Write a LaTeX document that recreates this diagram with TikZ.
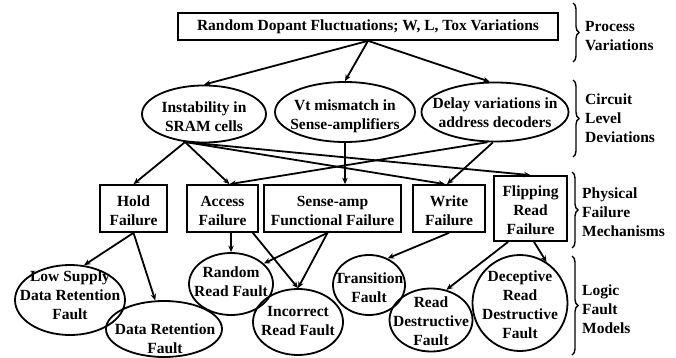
\documentclass[tikz,border=0pt]{standalone}
\usepackage{fontspec}
\setmainfont{Liberation Serif}
\usetikzlibrary{shapes.geometric,arrows.meta,calc,decorations.pathreplacing}
\begin{document}
\begin{tikzpicture}[x=1pt,y=-1pt,
  every node/.style={font=\fontsize{15.5}{19}\selectfont\bfseries},
  box/.style={draw,line width=1.7pt,inner sep=0pt,align=center},
  ell/.style={draw,ellipse,line width=1.8pt,inner sep=0pt},
  txt/.style={align=center,inner sep=0pt},
  side/.style={align=left,anchor=west,inner sep=0pt},
  conn/.style={line width=1.8pt,-{Stealth[length=6.5pt,width=5.5pt]}},
  brc/.style={decorate,decoration={brace,amplitude=6pt},line width=1.4pt}]
\useasboundingbox (0,0) rectangle (676,358);

% process level
\node[box,minimum width=380pt,minimum height=27pt] (top) at (368,26.5) {Random Dopant Fluctuations; W, L, Tox Variations};

% circuit level
\node[ell,minimum width=124pt,minimum height=57pt] (inst) at (204,114) {};
\node[txt] (inst-t) at (204,117) {Instability in\\SRAM cells};
\node[ell,minimum width=140pt,minimum height=60pt] (vt) at (345,112) {};
\node[txt] (vt-t) at (345,116) {Vt mismatch in\\Sense-amplifiers};
\node[ell,minimum width=147pt,minimum height=59pt] (delay) at (495,112) {};
\node[txt] (delay-t) at (495,113) {Delay variations in\\address decoders};

% physical failure mechanisms
\node[box,minimum width=67pt,minimum height=47pt] (hold) at (133.5,208.5) {};
\node[txt] (hold-t) at (133.5,210.5) {Hold\\Failure};
\node[box,minimum width=71pt,minimum height=47pt] (access) at (222.5,208.5) {};
\node[txt] (access-t) at (222.5,210.5) {Access\\Failure};
\node[box,minimum width=137pt,minimum height=47pt] (sense) at (332.5,208.5) {};
\node[txt] (sense-t) at (332.5,210.5) {Sense-amp\\Functional Failure};
\node[box,minimum width=72pt,minimum height=47pt] (write) at (449,208.5) {};
\node[txt] (write-t) at (449,210.5) {Write\\Failure};
\node[box,minimum width=73pt,minimum height=65pt] (flip) at (530.5,208.5) {};
\node[txt] (flip-t) at (530.5,210) {Flipping\\Read\\Failure};

% logic fault models
\node[ell,minimum width=110pt,minimum height=70pt] (low) at (70,300) {};
\node[txt] (low-t) at (70,295) {Low Supply\\Data Retention\\Fault};
\node[ell,minimum width=116pt,minimum height=56pt] (dr) at (164,329) {};
\node[txt] (dr-t) at (165,339) {Data Retention\\Fault};
\node[ell,minimum width=84pt,minimum height=62pt] (rand) at (231,284) {};
\node[txt] (rand-t) at (231,281.5) {Random\\Read Fault};
\node[ell,minimum width=90pt,minimum height=66pt] (inc) at (298,322) {};
\node[txt] (inc-t) at (298,321.5) {Incorrect\\Read Fault};
\node[ell,minimum width=72pt,minimum height=60pt] (trans) at (369,285) {};
\node[txt] (trans-t) at (369,287.5) {Transition\\Fault};
\node[ell,minimum width=83pt,minimum height=63pt] (rd) at (431,320) {};
\node[txt] (rd-t) at (431,321) {Read\\Destructive\\Fault};
\node[ell,minimum width=95pt,minimum height=96pt] (dec) at (520,303) {};
\node[txt] (dec-t) at (520,304.5) {Deceptive\\Read\\Destructive\\Fault};

% side labels
\draw[brc] (573,3) -- (573,62);
\node[side] (lab1) at (585,36.5) {Process\\Variations};
\draw[brc] (573,80) -- (573,157);
\node[side] (lab2) at (585,118) {Circuit\\Level\\Deviations};
\draw[brc] (572,172) -- (572,248);
\node[side] (lab3) at (582,212) {Physical\\Failure\\Mechanisms};
\draw[brc] (572,256) -- (572,355);
\node[side] (lab4) at (582,309) {Logic\\Fault\\Models};

% connectors
\draw[conn] (top.south) -- (inst.north);
\draw[conn] (top.south) -- (vt.north);
\draw[conn] (top.south) -- (delay.100);
\draw[conn] (inst.236) -- (hold.north);
\draw[conn] (inst.236) -- ($(access.north)+(7,0)$);
\draw[conn] (inst.236) -- ($(write.north)+(-4,0)$);
\draw[conn] (inst.236) -- (flip.north);
\draw[conn] (vt.south) -- (vt.south |- sense.north);
\draw[conn] (delay.256) -- ($(access.north)+(7,0)$);
\draw[conn] (delay.266) -- ($(write.north)+(-2,0)$);
\draw[conn] (hold.south) -- (low.68);
\draw[conn] (hold.south) -- (dr.107);
\draw[conn] (rand.north |- access.south) -- (rand.north);
\draw[conn] ($(access.south east)+(-6,0)$) -- (inc.north);
\draw[conn] ($(sense.south)+(-5,0)$) -- (rand.32);
\draw[conn] ($(sense.south)+(-5,0)$) -- (inc.north);
\draw[conn] (write.south) -- (trans.55);
\draw[conn] ($(flip.south west)+(15,0)$) -- (rd.63);
\draw[conn] ($(flip.south)+(3.5,0)$) -- (dec.57);
\end{tikzpicture}
\end{document}
